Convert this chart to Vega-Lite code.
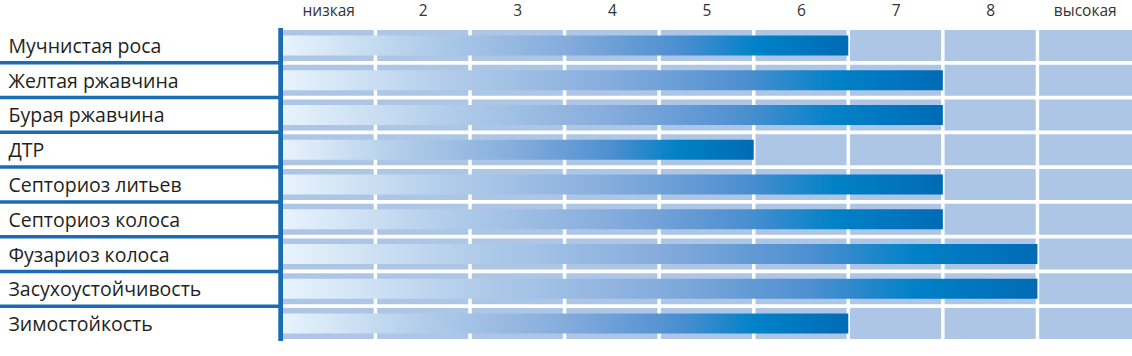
{
  "$schema": "https://vega.github.io/schema/vega-lite/v6.json",
  "autosize": {"type": "none"},
  "padding": {"top": 28, "bottom": 15, "left": 0, "right": 0},
  "width": 1132,
  "height": 313,
  "background": "white",
  "config": {"view": {"stroke": null}},
  "data": {"values": [
    {"disease": "Мучнистая роса", "value": 6},
    {"disease": "Желтая ржавчина", "value": 7},
    {"disease": "Бурая ржавчина", "value": 7},
    {"disease": "ДТР", "value": 5},
    {"disease": "Септориоз литьев", "value": 7},
    {"disease": "Септориоз колоса", "value": 7},
    {"disease": "Фузариоз колоса", "value": 8},
    {"disease": "Засухоустойчивость", "value": 8},
    {"disease": "Зимостойкость", "value": 6}
  ]},
  "layer": [
    {
      "mark": {"type": "bar", "height": 31, "fill": "#adc6e6"},
      "encoding": {
        "y": {"field": "disease", "type": "nominal", "sort": null,
          "scale": {"paddingInner": 0, "paddingOuter": 0},
          "axis": {"title": null, "orient": "left", "domain": false, "ticks": false, "grid": false,
            "labelAlign": "left", "labelPadding": -8, "labelBaseline": "middle", "labelOffset": 1.5,
            "labelFont": "Open Sans", "labelFontSize": 19.5, "labelColor": "#231f20", "labelLimit": 400}},
        "x": {"datum": 0, "type": "quantitative",
          "scale": {"domain": [-2.97, 9], "nice": false, "zero": false},
          "axis": {"title": null, "orient": "top", "values": [0.5, 1.5, 2.5, 3.5, 4.5, 5.5, 6.5, 7.5, 8.5],
            "labelExpr": "['низкая','2','3','4','5','6','7','8','высокая'][floor(datum.value)]",
            "domain": false, "ticks": false, "grid": false, "labelFlush": false,
            "labelPadding": 13, "labelBaseline": "alphabetic",
            "labelFont": "Open Sans", "labelFontSize": 15.5, "labelColor": "#333333"}},
        "x2": {"datum": 9}
      }
    },
    {
      "data": {"values": [{"b": 1}, {"b": 2}, {"b": 3}, {"b": 4}, {"b": 5}, {"b": 6}, {"b": 7}, {"b": 8}]},
      "mark": {"type": "rule", "stroke": "white", "strokeWidth": 3.5},
      "encoding": {
        "x": {"field": "b", "type": "quantitative", "axis": {"title": null}}
      }
    },
    {
      "mark": {"type": "bar", "height": 20,
        "fill": {"gradient": "linear", "x1": 0, "x2": 1, "y1": 0, "y2": 0,
          "stops": [
            {"offset": 0, "color": "#e8f4fd"},
            {"offset": 0.25, "color": "#b2cdea"},
            {"offset": 0.5, "color": "#85acdc"},
            {"offset": 0.7, "color": "#4d8fd0"},
            {"offset": 0.84, "color": "#0081c7"},
            {"offset": 1, "color": "#006bb5"}
          ]}},
      "encoding": {
        "y": {"field": "disease", "type": "nominal", "sort": null, "axis": {"title": null}},
        "x": {"field": "value", "type": "quantitative", "axis": {"title": null}}
      }
    },
    {
      "transform": [{"filter": "datum.disease !== 'Мучнистая роса'"}],
      "mark": {"type": "rule", "stroke": "#1a6db5", "strokeWidth": 3.5},
      "encoding": {
        "y": {"field": "disease", "type": "nominal", "sort": null, "bandPosition": 0, "axis": {"title": null}},
        "x": {"datum": -2.97, "type": "quantitative", "axis": {"title": null}},
        "x2": {"datum": 0}
      }
    },
    {
      "mark": {"type": "rule", "stroke": "#1a6db5", "strokeWidth": 4},
      "encoding": {
        "x": {"datum": 0, "type": "quantitative", "axis": {"title": null}}
      }
    }
  ]
}
